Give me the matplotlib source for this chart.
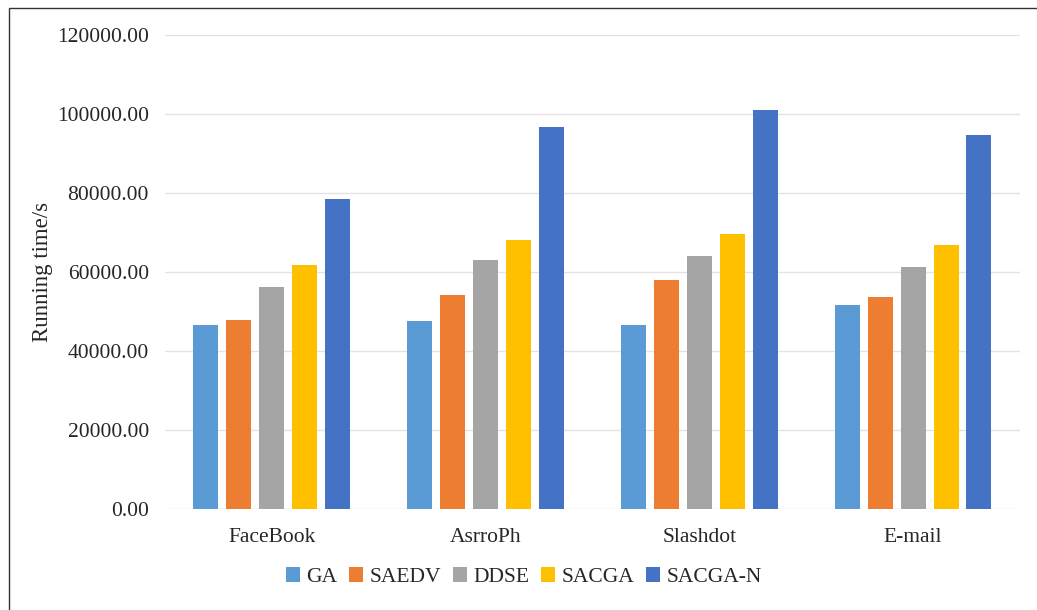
import matplotlib.pyplot as plt
import numpy as np
from matplotlib.patches import Rectangle

plt.rcParams["font.family"] = ["Liberation Serif", "DejaVu Serif"]

datasets = ["FaceBook", "AsrroPh", "Slashdot", "E-mail"]
methods = ["GA", "SAEDV", "DDSE", "SACGA", "SACGA-N"]

ga = [46600, 47600, 46600, 51750]
saedv = [47900, 54300, 58100, 53600]
ddse = [56300, 63000, 64100, 61200]
sacga = [61700, 68000, 69600, 66900]
sacga_n = [78500, 96600, 100900, 94600]

COLORS = ["#5B9BD5", "#ED7D31", "#A5A5A5", "#FFC000", "#4472C4"]

fig = plt.figure(figsize=(10.37, 6.10), dpi=100)
ax = fig.add_axes([0.159, 0.1656, 0.8246, 0.777])

x = np.arange(len(datasets))
pitch = 0.154
width = 0.117
for k, (name, vals) in enumerate(zip(methods, [ga, saedv, ddse, sacga, sacga_n])):
    ax.bar(x + (k - 2) * pitch, vals, width, color=COLORS[k], label=name, zorder=3)

ax.set_xlim(-0.5, len(datasets) - 0.5)
ax.set_ylim(0, 120000)
ax.set_yticks(np.arange(0, 120001, 20000))
ax.set_yticklabels([f"{v:.2f}" for v in np.arange(0, 120001, 20000)])
ax.set_xticks(x)
ax.set_xticklabels(datasets)
ax.tick_params(axis="both", length=0, labelsize=15.5, colors="#262626")
ax.tick_params(axis="x", pad=14)
ax.tick_params(axis="y", pad=11.5)
ax.yaxis.grid(True, color="#E3E3E3", lw=1.0, zorder=0)
for s in ax.spines.values():
    s.set_visible(False)
ax.set_ylabel("Running time/s", fontsize=16.5, color="#262626", labelpad=3)

fig.legend(loc="center", bbox_to_anchor=(0.505, 0.054), ncol=5, frameon=False,
           fontsize=15.5, handlelength=0.65, handleheight=0.65,
           handletextpad=0.3, columnspacing=0.55, labelcolor="#262626")

# outer frame of the pasted chart
fig.patches.append(Rectangle((9 / 1037, -0.1), 1.2, 1.1 - 8 / 610,
                             transform=fig.transFigure, fill=False,
                             edgecolor="#333333", lw=1.0))

fig.savefig("out.png", dpi=100)
